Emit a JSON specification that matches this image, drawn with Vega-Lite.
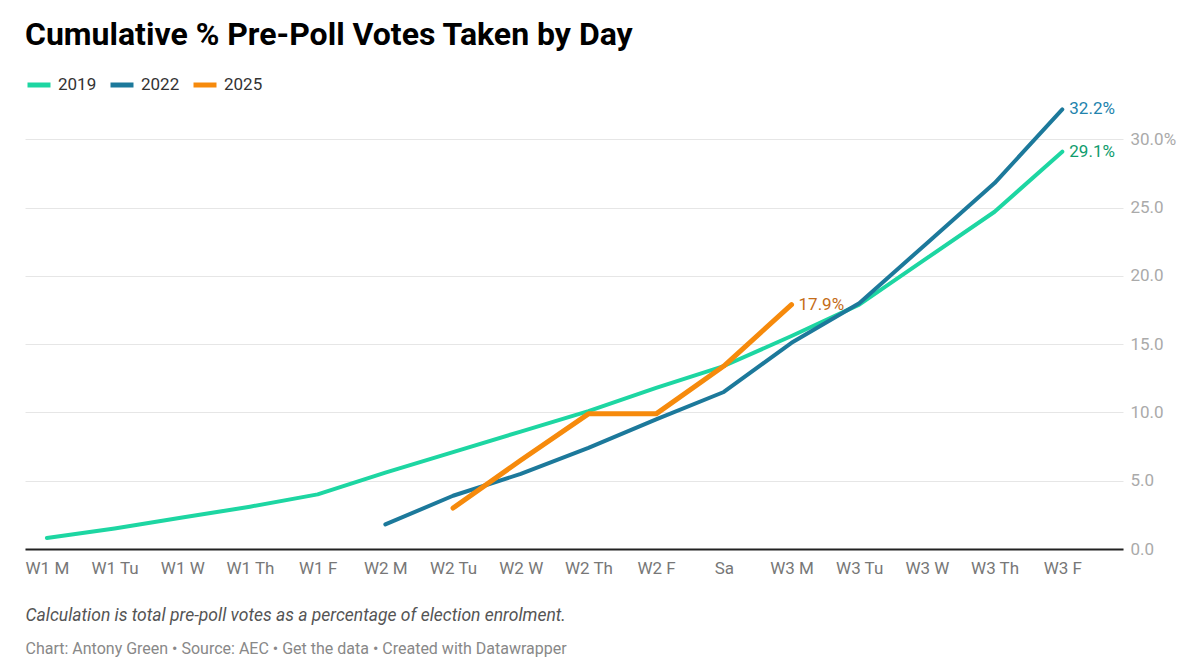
{
  "$schema": "https://vega.github.io/schema/vega-lite/v6.json",
  "width": 1098,
  "height": 441,
  "autosize": "none",
  "padding": {"left": 25, "top": 108, "right": 77, "bottom": 118},
  "background": "white",
  "title": {
    "text": "Cumulative % Pre-Poll Votes Taken by Day",
    "anchor": "start",
    "frame": "group",
    "font": "Roboto",
    "fontSize": 32,
    "fontWeight": 700,
    "color": "#000000",
    "offset": 19
  },
  "data": {
    "values": [
      {"day": "W1 M", "year": "2019", "pct": 0.8},
      {"day": "W1 Tu", "year": "2019", "pct": 1.5},
      {"day": "W1 W", "year": "2019", "pct": 2.3},
      {"day": "W1 Th", "year": "2019", "pct": 3.1},
      {"day": "W1 F", "year": "2019", "pct": 4.0},
      {"day": "W2 M", "year": "2019", "pct": 5.6},
      {"day": "W2 Tu", "year": "2019", "pct": 7.1},
      {"day": "W2 W", "year": "2019", "pct": 8.6},
      {"day": "W2 Th", "year": "2019", "pct": 10.1},
      {"day": "W2 F", "year": "2019", "pct": 11.8},
      {"day": "Sa", "year": "2019", "pct": 13.4},
      {"day": "W3 M", "year": "2019", "pct": 15.6},
      {"day": "W3 Tu", "year": "2019", "pct": 17.9},
      {"day": "W3 W", "year": "2019", "pct": 21.3},
      {"day": "W3 Th", "year": "2019", "pct": 24.7},
      {"day": "W3 F", "year": "2019", "pct": 29.1},
      {"day": "W2 M", "year": "2022", "pct": 1.8},
      {"day": "W2 Tu", "year": "2022", "pct": 3.9},
      {"day": "W2 W", "year": "2022", "pct": 5.5},
      {"day": "W2 Th", "year": "2022", "pct": 7.4},
      {"day": "W2 F", "year": "2022", "pct": 9.5},
      {"day": "Sa", "year": "2022", "pct": 11.5},
      {"day": "W3 M", "year": "2022", "pct": 15.1},
      {"day": "W3 Tu", "year": "2022", "pct": 18.0},
      {"day": "W3 W", "year": "2022", "pct": 22.4},
      {"day": "W3 Th", "year": "2022", "pct": 26.8},
      {"day": "W3 F", "year": "2022", "pct": 32.2},
      {"day": "W2 Tu", "year": "2025", "pct": 3.0},
      {"day": "W2 W", "year": "2025", "pct": 6.5},
      {"day": "W2 Th", "year": "2025", "pct": 9.9},
      {"day": "W2 F", "year": "2025", "pct": 9.9},
      {"day": "Sa", "year": "2025", "pct": 13.4},
      {"day": "W3 M", "year": "2025", "pct": 17.9}
    ]
  },
  "encoding": {
    "x": {
      "field": "day",
      "type": "ordinal",
      "sort": ["W1 M", "W1 Tu", "W1 W", "W1 Th", "W1 F", "W2 M", "W2 Tu", "W2 W", "W2 Th", "W2 F", "Sa", "W3 M", "W3 Tu", "W3 W", "W3 Th", "W3 F"],
      "scale": {"type": "point", "padding": 0.61, "align": 0.265}
    },
    "y": {
      "field": "pct",
      "type": "quantitative",
      "scale": {"domain": [0, 32.3], "nice": false},
      "axis": {
        "orient": "right",
        "title": null,
        "values": [0, 5, 10, 15, 20, 25, 30],
        "labelExpr": "datum.value == 30 ? '30.0%' : format(datum.value, '.1f')",
        "labelFontSize": 17,
        "labelColor": "#aaaaaa",
        "labelPadding": 7,
        "domain": false,
        "ticks": false,
        "grid": true,
        "gridColor": "#e6e6e6",
        "gridWidth": 1
      }
    }
  },
  "layer": [
    {
      "mark": {"type": "line", "strokeCap": "round", "strokeJoin": "round"},
      "encoding": {
        "x": {
          "field": "day",
          "type": "ordinal",
          "sort": ["W1 M", "W1 Tu", "W1 W", "W1 Th", "W1 F", "W2 M", "W2 Tu", "W2 W", "W2 Th", "W2 F", "Sa", "W3 M", "W3 Tu", "W3 W", "W3 Th", "W3 F"],
          "axis": {
            "orient": "bottom",
            "title": "Calculation is total pre-poll votes as a percentage of election enrolment.",
            "titleFontStyle": "italic",
            "titleFontWeight": "normal",
            "titleFontSize": 17.5,
            "titleColor": "#555555",
            "titleAnchor": "start",
            "titleAlign": "left",
            "titlePadding": 30,
            "labelAngle": 0,
            "labelFontSize": 17,
            "labelColor": "#777777",
            "labelPadding": 11,
            "ticks": false,
            "grid": false,
            "domainColor": "#222222",
            "domainWidth": 2
          }
        },
        "color": {
          "field": "year",
          "type": "nominal",
          "scale": {"domain": ["2019", "2022", "2025"], "range": ["#1dd6a2", "#1c799b", "#f68a0c"]},
          "legend": {
            "title": null,
            "orient": "none",
            "legendX": 0,
            "legendY": -37,
            "direction": "horizontal",
            "symbolType": "stroke",
            "symbolStrokeWidth": 5,
            "symbolSize": 529,
            "labelFontSize": 17,
            "labelColor": "#333333",
            "labelOffset": 5,
            "columnPadding": 3
          }
        },
        "strokeWidth": {
          "condition": {"test": "datum.year == '2025'", "value": 5},
          "value": 4
        }
      }
    },
    {
      "transform": [
        {"filter": "datum.day == 'W3 F' || (datum.year == '2025' && datum.day == 'W3 M')"},
        {"calculate": "format(datum.pct, '.1f') + '%'", "as": "label"}
      ],
      "mark": {"type": "text", "align": "left", "baseline": "middle", "dx": 7, "fontSize": 17},
      "encoding": {
        "x": {
          "field": "day",
          "type": "ordinal",
          "sort": ["W1 M", "W1 Tu", "W1 W", "W1 Th", "W1 F", "W2 M", "W2 Tu", "W2 W", "W2 Th", "W2 F", "Sa", "W3 M", "W3 Tu", "W3 W", "W3 Th", "W3 F"],
          "axis": {
            "orient": "bottom",
            "title": "Chart: Antony Green • Source: AEC • Get the data • Created with Datawrapper",
            "titleFontWeight": "normal",
            "titleFontSize": 16,
            "titleColor": "#888888",
            "titleAnchor": "start",
            "titleAlign": "left",
            "titlePadding": 91,
            "labels": false,
            "ticks": false,
            "domain": false,
            "grid": false
          }
        },
        "text": {"field": "label"},
        "color": {
          "condition": [
            {"test": "datum.year == '2019'", "value": "#0f9c6d"},
            {"test": "datum.year == '2022'", "value": "#2283ad"}
          ],
          "value": "#c46c18"
        }
      }
    }
  ],
  "resolve": {"axis": {"x": "independent"}},
  "config": {
    "font": "Roboto",
    "view": {"stroke": null}
  }
}
